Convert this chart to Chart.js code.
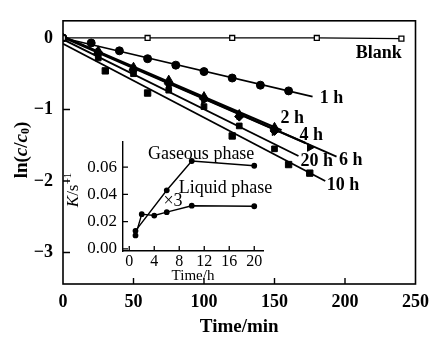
<!DOCTYPE html>
<html>
<head>
<meta charset="utf-8">
<script src="https://cdn.jsdelivr.net/npm/chart.js@4/dist/chart.umd.min.js"></script>
<style>
  html, body { margin: 0; padding: 0; background: #fff; }
  #wrap { position: relative; width: 437px; height: 338px; }
  #main { position: absolute; left: 0; top: 0; }
  #inset { position: absolute; left: 40px; top: 125px; }
</style>
</head>
<body>
<div id="wrap">
  <canvas id="main" width="437" height="338"></canvas>
  <canvas id="inset" width="240" height="160"></canvas>
</div>
<script>
// main plot: ln(c/c0) vs time (min)
const blankT = [0, 60, 120, 180, 240];
const blankV = [0, 0, 0, 0, -0.01];

const h1T = [0, 20, 40, 60, 80, 100, 120, 140, 160];
const h1V = [0, -0.07, -0.18, -0.29, -0.38, -0.47, -0.56, -0.66, -0.74];
const h2T = [0, 25, 50, 75, 100, 125, 150];
const h2V = [0, -0.18, -0.41, -0.59, -0.82, -1.07, -1.25];
const h4T = [25, 50, 75, 100, 125, 150];
const h4V = [-0.22, -0.45, -0.64, -0.85, -1.10, -1.30];
const h6T = [25, 50, 75, 100, 125, 150, 175];
const h6V = [-0.20, -0.43, -0.66, -0.87, -1.09, -1.31, -1.53];
const h20T = [25, 50, 75, 100, 125, 150];
const h20V = [-0.28, -0.50, -0.73, -0.96, -1.23, -1.55];
const h10T = [30, 60, 120, 160, 175];
const h10V = [-0.46, -0.77, -1.37, -1.77, -1.89];

// fitted straight lines (start / end)
const fit1T = [0, 177],  fit1V = [0, -0.82];
const fit2T = [0, 155],  fit2V = [0.02, -1.29];
const fit4T = [0, 172],  fit4V = [0.01, -1.47];
const fit6T = [0, 194],  fit6V = [0.02, -1.66];
const fit20T = [0, 167], fit20V = [-0.02, -1.65];
const fit10T = [0, 186], fit10V = [-0.08, -2.00];

const xTicks = [0, 50, 100, 150, 200, 250];
const yTicks = [-3, -2, -1, 0];

const labelText = ['Blank', '1 h', '2 h', '4 h', '20 h', '6 h', '10 h'];
const labelT = [224, 190.4, 162.6, 176, 180, 204, 198.5];
const labelV = [-0.22, -0.84, -1.13, -1.36, -1.73, -1.71, -2.06];

// inset: K vs time (h)
const liqT = [1, 2, 4, 6, 10, 20];
const liqK = [0.0099, 0.0255, 0.0245, 0.027, 0.0317, 0.0313];
const gasT = [1, 6, 10, 20];
const gasK = [0.0133, 0.043, 0.0645, 0.061];
const insetXTicks = [0, 4, 8, 12, 16, 20];
const insetYTicks = [0, 0.02, 0.04, 0.06];
const insetText = ['Gaseous phase', 'Liquid phase', '×3'];
const insetTextT = [11.5, 15.4, 7.0];
const insetTextK = [0.0695, 0.0445, 0.035];

const SERIF = "'Liberation Serif', 'Times New Roman', serif";

const pts = (t, v) => t.map((x, i) => ({ x: x, y: v[i] }));

const fitLine = (t, v, w) => ({
  data: pts(t, v), showLine: true, borderColor: '#000', borderWidth: w,
  pointRadius: 0, order: 2
});
const marks = (t, v, style, r, rot) => ({
  data: pts(t, v), showLine: false, pointStyle: style, pointRadius: r,
  pointRotation: rot || 0, backgroundColor: '#000', borderColor: '#000',
  borderWidth: 1, order: 1
});

function drawRich(ctx, parts, x, y, rot) {
  ctx.save();
  ctx.translate(x, y);
  ctx.rotate(rot);
  ctx.textBaseline = 'middle';
  ctx.textAlign = 'left';
  let w = 0;
  parts.forEach(p => { ctx.font = p.font; w += ctx.measureText(p.text).width; });
  let cx = -w / 2;
  parts.forEach(p => {
    ctx.font = p.font;
    ctx.fillText(p.text, cx, p.dy || 0);
    cx += ctx.measureText(p.text).width;
  });
  ctx.restore();
}

// box, inward ticks, curve labels, y title
const mainDeco = {
  id: 'mainDeco',
  afterDraw(chart) {
    const ctx = chart.ctx, a = chart.chartArea;
    const sx = chart.scales.x, sy = chart.scales.y;
    ctx.save();
    ctx.strokeStyle = '#000';
    ctx.lineWidth = 1.6;
    ctx.strokeRect(a.left, a.top, a.right - a.left, a.bottom - a.top);
    ctx.lineWidth = 1.4;
    ctx.beginPath();
    xTicks.slice(1, -1).forEach(v => {
      const px = sx.getPixelForValue(v);
      ctx.moveTo(px, a.bottom); ctx.lineTo(px, a.bottom - 6);
    });
    yTicks.slice(0, -1).forEach(v => {
      const py = sy.getPixelForValue(v);
      ctx.moveTo(a.left, py); ctx.lineTo(a.left + 7, py);
    });
    ctx.stroke();

    ctx.fillStyle = '#000';
    ctx.textAlign = 'center';
    ctx.textBaseline = 'middle';
    ctx.font = 'bold 18px ' + SERIF;
    labelText.forEach((s, i) => {
      ctx.fillText(s, sx.getPixelForValue(labelT[i]), sy.getPixelForValue(labelV[i]));
    });

    const b = 'bold 19px ' + SERIF, bi = 'italic bold 19px ' + SERIF;
    drawRich(ctx, [
      { text: 'ln(', font: b }, { text: 'c', font: bi }, { text: '/', font: b },
      { text: 'c', font: bi }, { text: '0', font: 'bold 12px ' + SERIF, dy: 4 },
      { text: ')', font: b }
    ], 22, 150, -Math.PI / 2);
    ctx.restore();
  }
};

new Chart(document.getElementById('main'), {
  type: 'scatter',
  data: {
    datasets: [
      { data: pts(blankT, blankV), showLine: true, pointStyle: 'rect', pointRadius: 3.5,
        backgroundColor: '#fff', borderColor: '#000', borderWidth: 1.3, order: 0 },
      marks(h1T, h1V, 'circle', 4),
      marks(h2T, h2V, 'triangle', 5),
      marks(h4T, h4V, 'rectRot', 4.5),
      marks(h6T, h6V, 'triangle', 4.5, 90),
      marks(h20T, h20V, 'rect', 4),
      marks(h10T, h10V, 'rect', 4.5),
      fitLine(fit1T, fit1V, 1.6),
      fitLine(fit2T, fit2V, 2.2),
      fitLine(fit4T, fit4V, 2.2),
      fitLine(fit6T, fit6V, 1.8),
      fitLine(fit20T, fit20V, 1.8),
      fitLine(fit10T, fit10V, 1.8)
    ]
  },
  options: {
    responsive: false,
    animation: false,
    layout: { padding: { top: 14, right: 19, left: 0, bottom: 0 } },
    plugins: { legend: { display: false }, tooltip: { enabled: false } },
    scales: {
      x: {
        type: 'linear', min: 0, max: 250,
        afterBuildTicks: s => { s.ticks = xTicks.map(v => ({ value: v })); },
        afterFit: s => { s.height = 54; },
        grid: { display: false, drawTicks: false },
        border: { display: false },
        ticks: { color: '#000', padding: 8, font: { family: SERIF, size: 18, weight: 'bold' } },
        title: { display: true, text: 'Time/min', color: '#000', padding: { top: 0, bottom: 0 },
                 font: { family: SERIF, size: 19, weight: 'bold' } }
      },
      y: {
        type: 'linear', min: -3.44, max: 0.24,
        afterBuildTicks: s => { s.ticks = yTicks.map(v => ({ value: v })); },
        afterFit: s => { s.width = 63; },
        grid: { display: false, drawTicks: false },
        border: { display: false },
        ticks: { color: '#000', padding: 10, font: { family: SERIF, size: 18, weight: 'bold' },
                 callback: v => v === 0 ? '0' : '\u2212' + Math.abs(v) }
      }
    }
  },
  plugins: [mainDeco]
});

const insetDeco = {
  id: 'insetDeco',
  afterDraw(chart) {
    const ctx = chart.ctx, a = chart.chartArea;
    const sx = chart.scales.x, sy = chart.scales.y;
    ctx.save();
    ctx.strokeStyle = '#000';
    ctx.lineWidth = 1.3;
    ctx.beginPath();
    insetXTicks.forEach(v => {
      const px = sx.getPixelForValue(v);
      ctx.moveTo(px, a.bottom); ctx.lineTo(px, a.bottom - 5);
    });
    insetYTicks.forEach(v => {
      const py = sy.getPixelForValue(v);
      ctx.moveTo(a.left, py); ctx.lineTo(a.left + 5, py);
    });
    ctx.stroke();

    ctx.fillStyle = '#000';
    ctx.textAlign = 'center';
    ctx.textBaseline = 'middle';
    ctx.font = '18px ' + SERIF;
    insetText.forEach((s, i) => {
      ctx.fillText(s, sx.getPixelForValue(insetTextT[i]), sy.getPixelForValue(insetTextK[i]));
    });

    drawRich(ctx, [
      { text: 'K', font: 'italic 17px ' + SERIF }, { text: '/s', font: '17px ' + SERIF },
      { text: '\u22121', font: '11px ' + SERIF, dy: -6 }
    ], 34, 65, -Math.PI / 2);
    ctx.restore();
  }
};

new Chart(document.getElementById('inset'), {
  type: 'scatter',
  data: {
    datasets: [
      { data: pts(gasT, gasK), showLine: true, borderColor: '#000', borderWidth: 1.4,
        pointRadius: 2.2, backgroundColor: '#000', borderColor: '#000' },
      { data: pts(liqT, liqK), showLine: true, borderColor: '#000', borderWidth: 1.4,
        pointRadius: 2.2, backgroundColor: '#000', borderColor: '#000' }
    ]
  },
  options: {
    responsive: false,
    animation: false,
    layout: { padding: { top: 7, right: 17, left: 0, bottom: 0 } },
    plugins: { legend: { display: false }, tooltip: { enabled: false } },
    scales: {
      x: {
        type: 'linear', min: -1, max: 21.4,
        afterBuildTicks: s => { s.ticks = insetXTicks.map(v => ({ value: v })); },
        afterFit: s => { s.height = 34; },
        grid: { display: false, drawTicks: false },
        border: { display: true, color: '#000', width: 1.4 },
        ticks: { color: '#000', padding: 1, font: { family: SERIF, size: 16 } },
        title: { display: true, text: 'Time/h', color: '#000', padding: { top: 0, bottom: 0 },
                 font: { family: SERIF, size: 15 } }
      },
      y: {
        type: 'linear', min: -0.0015, max: 0.079,
        afterBuildTicks: s => { s.ticks = insetYTicks.map(v => ({ value: v })); },
        afterFit: s => { s.width = 83; },
        grid: { display: false, drawTicks: false },
        border: { display: true, color: '#000', width: 1.4 },
        ticks: { color: '#000', padding: 6, font: { family: SERIF, size: 17 },
                 callback: v => v.toFixed(2) }
      }
    }
  },
  plugins: [insetDeco]
});
</script>
</body>
</html>
